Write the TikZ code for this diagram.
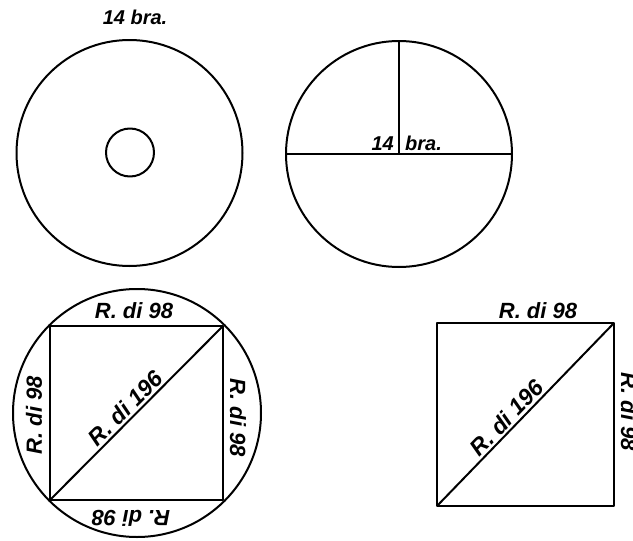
\documentclass[tikz,border=0pt]{standalone}
\usepackage{fontspec}
\newfontfamily\handfont{Liberation Sans}

\begin{document}
\begin{tikzpicture}[
  x=1pt, y=-1pt,
  fig/.style={line width=2pt, line join=round},
  lbl/.style={font=\handfont\bfseries\itshape\fontsize{20}{20}\selectfont,
              inner sep=1pt},
  rlbl/.style={lbl, font=\handfont\bfseries\itshape\fontsize{22}{22}\selectfont},
  dlbl/.style={lbl, font=\handfont\bfseries\itshape\fontsize{23}{23}\selectfont,
               anchor=south, inner sep=2pt},
]
\useasboundingbox (0,0) rectangle (633,541);

%% ===== Ring =====
\coordinate (c1) at (129.5,153);
\draw[fig] (c1) circle (113);
\draw[fig] (130,152.5) circle (24);
\node[lbl] (ringlbl) at (135,17) {14 bra.};

%% ===== Circle with radius =====
\coordinate (c2) at (399,154);
\coordinate (c2w) at (286,154);
\coordinate (c2e) at (512,154);
\coordinate (c2n) at (399,41);
\draw[fig] (c2) circle (113);
\draw[fig] (c2w) -- (c2e);
\draw[fig] (c2) -- (c2n);
\node[lbl, anchor=base east] (numlbl) at (395,150) {14};
\node[lbl, anchor=base west] (unitlbl) at (404,150) {bra.};

%% ===== Square in circle =====
\coordinate (c3) at (137,413);
\coordinate (a1) at (50,500);
\coordinate (b1) at (223,500);
\coordinate (d1) at (223,326);
\coordinate (e1) at (50,326);
\draw[fig] (c3) circle (124);
\draw[fig] (a1) -- (b1) -- (d1) -- (e1) -- cycle;
\draw[fig] (a1) -- node[dlbl, pos=0.48, rotate=45] (diag1) {R. di 196} (d1);
\node[rlbl] (top1) at (134,311) {R. di 98};
\node[rlbl, rotate=90] (left1) at (34,415) {R. di 98};
\node[rlbl, rotate=-90] (right1) at (238,418) {R. di 98};
\node[rlbl, rotate=180] (bot1) at (131,518) {R. di 98};

%% ===== Square =====
\coordinate (a2) at (437,506);
\coordinate (b2) at (614,506);
\coordinate (d2) at (614,323);
\coordinate (e2) at (437,323);
\draw[fig] (a2) -- (b2) -- (d2) -- (e2) -- cycle;
\draw[fig] (a2) -- node[dlbl, pos=0.44, rotate=46] (diag2) {R. di 196} (d2);
\node[rlbl] (top2) at (538,311) {R. di 98};
\node[rlbl, rotate=-90] (right2) at (629,412) {R. di 98};

\end{tikzpicture}
\end{document}
